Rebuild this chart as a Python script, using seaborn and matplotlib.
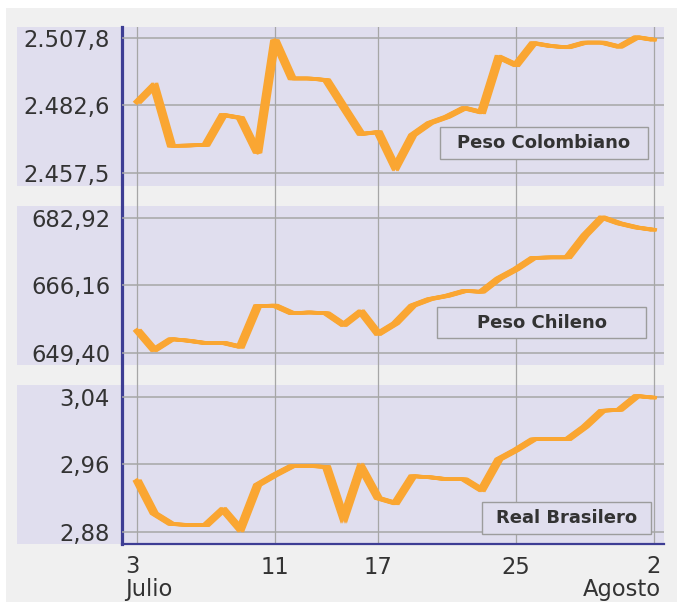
import numpy as np
import pandas as pd
import matplotlib
matplotlib.use("Agg")
import matplotlib.pyplot as plt
import seaborn as sns
from matplotlib import transforms
from matplotlib.patches import Rectangle
from matplotlib.ticker import FixedLocator, FixedFormatter

# ---------------- data ----------------
dias = [3, 4, 5, 6, 7, 8, 9, 10, 11, 12, 13, 14, 15, 16, 17, 18, 19, 20, 21, 22,
        23, 24, 25, 26, 27, 28, 29, 30, 31, 32, 33]

peso_colombiano = [2483.5, 2490.0, 2467.5, 2467.6, 2467.8, 2479.0, 2477.9, 2464.8,
                   2507.0, 2492.6, 2492.6, 2492.0, 2481.9, 2471.9, 2472.6, 2459.3,
                   2471.5, 2476.0, 2478.3, 2481.6, 2480.0, 2500.6, 2497.6, 2505.8,
                   2504.7, 2504.2, 2506.0, 2506.0, 2504.4, 2508.0, 2507.0]

peso_chileno = [655.2, 650.2, 652.9, 652.5, 651.9, 652.0, 651.0, 661.1, 661.2, 659.3,
                659.5, 659.3, 656.4, 659.7, 654.2, 656.8, 661.2, 662.8, 663.6, 664.8,
                664.6, 667.9, 670.2, 673.0, 673.1, 673.1, 678.6, 683.0, 681.5, 680.5,
                679.9]

real_brasilero = [2.9415, 2.902, 2.8894, 2.8883, 2.888, 2.9068, 2.883, 2.9356, 2.9474,
                  2.958, 2.958, 2.957, 2.896, 2.9572, 2.920, 2.914, 2.946, 2.9447,
                  2.9423, 2.9423, 2.9297, 2.966, 2.977, 2.9896, 2.990, 2.9896, 3.0045,
                  3.0234, 3.0243, 3.0408, 3.0388]

series_names = ["Peso Colombiano", "Peso Chileno", "Real Brasilero"]
series_values = [peso_colombiano, peso_chileno, real_brasilero]

ytick_values = [[2457.5, 2482.6, 2507.8], [649.40, 666.16, 682.92], [2.88, 2.96, 3.04]]
ytick_labels = [["2.457,5", "2.482,6", "2.507,8"], ["649,40", "666,16", "682,92"],
                ["2,88", "2,96", "3,04"]]
ylims = [(2452.5, 2511.8), (646.5, 685.81), (2.8658, 3.0538)]

xtick_values = [3, 11, 17, 25, 33]
xtick_labels = ["3", "11", "17", "25", "2"]
mes_inicio = "Julio"
mes_fin = "Agosto"

# ---------------- layout ----------------
W, H = 677, 602
DPI = 100
fig = plt.figure(figsize=(W / DPI, H / DPI), dpi=DPI, facecolor="#f0f0f0")


def fx(px):
    return px / W


def fy(py):
    return 1 - py / H


LAV = "#e0deee"
ORANGE = "#faa632"
BLUE = "#3d3d94"
GRID = "#a6a6a6"
TXT = "#333333"
FS = 16.3

# white margins at top / left
fig.patches.append(Rectangle((0, fy(8)), 1, 8 / H, transform=fig.transFigure,
                             facecolor="white", edgecolor="none", zorder=-3))
fig.patches.append(Rectangle((0, 0), 6 / W, 1, transform=fig.transFigure,
                             facecolor="white", edgecolor="none", zorder=-3))

panel_rows = [(27, 186), (206, 365), (385, 544)]
AX_L, AX_R = 122, 664
for (y0, y1) in panel_rows:
    fig.patches.append(Rectangle((fx(17), fy(y1)), fx(AX_R) - fx(17), (y1 - y0) / H,
                                 transform=fig.transFigure, facecolor=LAV,
                                 edgecolor="none", zorder=-1))

xlim = (2.13, 33.58)

# background axes: vertical grid, blue spines, x tick labels
bg = fig.add_axes([fx(AX_L), fy(544), fx(AX_R) - fx(AX_L), (544 - 27) / H])
bg.set_facecolor("none")
bg.set_xlim(*xlim)
bg.set_ylim(0, 1)
bg.xaxis.set_major_locator(FixedLocator(xtick_values))
inner_labels = [""] + xtick_labels[1:-1] + [""]
bg.xaxis.set_major_formatter(FixedFormatter(inner_labels))
bg.set_yticks([])
bg.grid(axis="x", color=GRID, lw=0.9)
bg.set_axisbelow(True)
for s in ["top", "right"]:
    bg.spines[s].set_visible(False)
bg.spines["left"].set_color(BLUE)
bg.spines["left"].set_linewidth(2.3)
bg.spines["bottom"].set_color(BLUE)
bg.spines["bottom"].set_linewidth(1.6)
bg.tick_params(axis="x", length=0, pad=8.5, labelsize=FS, labelcolor=TXT)

bg.annotate(xtick_labels[0] + "\n" + mes_inicio, xy=(xtick_values[0], 0),
            xycoords=("data", "axes fraction"), xytext=(-12, -11),
            textcoords="offset pixels", ha="left", va="top", multialignment="left",
            linespacing=1.0, fontsize=FS, color=TXT, annotation_clip=False)
bg.annotate(xtick_labels[-1] + "\n" + mes_fin, xy=(xtick_values[-1], 0),
            xycoords=("data", "axes fraction"), xytext=(7, -11),
            textcoords="offset pixels", ha="right", va="top", multialignment="right",
            linespacing=1.0, fontsize=FS, color=TXT, annotation_clip=False)

label_boxes = [
    ((0.5867, 0.1698, 0.3838, 0.2013), (0.7786, 0.2704)),
    ((0.5812, 0.1698, 0.3856, 0.1950), (0.7740, 0.2670)),
    ((0.6642, 0.0629, 0.3118, 0.2013), (0.8200, 0.1635)),
]

offsets = [-3, -2, -1, 1, 2, 3]
LW = 2.4

for k, (y0, y1) in enumerate(panel_rows):
    ax = fig.add_axes([fx(AX_L), fy(y1), fx(AX_R) - fx(AX_L), (y1 - y0) / H])
    ax.set_zorder(1)
    ax.set_facecolor("none")
    ax.set_xlim(*xlim)
    ax.set_ylim(*ylims[k])
    for s in ax.spines.values():
        s.set_visible(False)
    ax.set_xticks([])
    ax.yaxis.set_major_locator(FixedLocator(ytick_values[k]))
    ax.yaxis.set_major_formatter(FixedFormatter(ytick_labels[k]))
    ax.tick_params(axis="y", length=0, pad=8.6, labelsize=FS, labelcolor=TXT)
    ax.grid(axis="y", color=GRID, lw=1.1)
    ax.grid(axis="x", visible=False)
    ax.set_axisbelow(True)

    df = pd.DataFrame({"dia": dias, "valor": series_values[k]})
    for dx in offsets:
        tr = transforms.offset_copy(ax.transData, fig=fig, x=dx, y=0, units="dots")
        ax.plot(df["dia"], df["valor"], color=ORANGE, lw=LW, transform=tr,
                solid_capstyle="butt", solid_joinstyle="miter", zorder=3)
    sns.lineplot(data=df, x="dia", y="valor", ax=ax, color=ORANGE, lw=LW, zorder=3,
                 estimator=None, sort=False)
    ax.set_xlabel("")
    ax.set_ylabel("")

    (bx, by, bw, bh), (tx, ty) = label_boxes[k]
    ax.add_patch(Rectangle((bx, by), bw, bh, transform=ax.transAxes, facecolor=LAV,
                           edgecolor="#9c9c9c", lw=1.0, zorder=5))
    ax.text(tx, ty, series_names[k], transform=ax.transAxes, ha="center", va="center",
            fontsize=13, fontweight="bold", color=TXT, zorder=6)

fig.savefig("out.png", dpi=DPI, facecolor=fig.get_facecolor())
